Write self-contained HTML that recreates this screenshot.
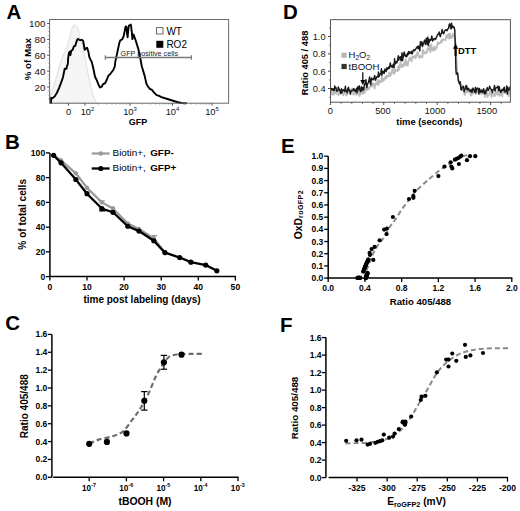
<!DOCTYPE html>
<html><head><meta charset="utf-8"><style>
html,body{margin:0;padding:0;background:#fff;}
body{width:520px;height:511px;overflow:hidden;}
svg{display:block;font-family:"Liberation Sans", sans-serif;}
</style></head><body>
<svg width="520" height="511" viewBox="0 0 520 511">
<rect width="520" height="511" fill="#fff"/>
<text x="6.4" y="18.8" font-size="20.5" font-weight="bold" text-anchor="start" fill="#000" >A</text>
<text x="5.0" y="148.8" font-size="20.5" font-weight="bold" text-anchor="start" fill="#000" >B</text>
<text x="5.2" y="330.3" font-size="20.5" font-weight="bold" text-anchor="start" fill="#000" >C</text>
<text x="283.0" y="18.8" font-size="20.5" font-weight="bold" text-anchor="start" fill="#000" >D</text>
<text x="281.0" y="152.8" font-size="20.5" font-weight="bold" text-anchor="start" fill="#000" >E</text>
<text x="280.0" y="331.5" font-size="20.5" font-weight="bold" text-anchor="start" fill="#000" >F</text>
<path d="M49.8,103.2 L49.8,98.0 L52.0,92.0 L55.0,82.0 L57.5,73.0 L60.3,63.5 L63.0,56.0 L65.0,51.0 L67.3,46.4 L69.5,38.0 L71.5,30.0 L73.4,25.3 L74.3,24.8 L75.6,25.3 L77.0,27.0 L78.3,29.0 L79.6,37.6 L82.4,45.0 L84.5,55.0 L86.6,66.5 L88.5,76.0 L90.7,86.5 L92.5,93.0 L94.0,98.0 L96.0,101.5 L97.5,103.2 Z" fill="#f5f5f5" stroke="#d6d6d6" stroke-width="0.8"/>
<polyline points="51.10,103.00 51.10,97.80 52.40,98.30 54.60,96.50 56.80,93.00 59.00,88.10 61.20,82.40 63.00,77.20 64.30,70.60 64.70,68.80 66.50,68.80 66.90,66.20 67.80,64.40 68.20,57.80 69.00,52.50 69.90,51.70 70.40,55.20 71.20,50.80 72.60,49.90 73.90,46.40 75.20,45.90 76.10,42.90 77.00,40.20 77.80,38.90 79.20,39.80 80.50,40.20 81.80,39.80 83.10,40.70 84.00,45.50 84.70,49.90 85.70,48.60 87.10,47.70 88.40,51.70 89.30,56.90 90.60,60.00 91.70,61.70 93.30,68.30 95.00,76.70 96.70,80.00 98.30,84.20 100.00,87.50 101.70,86.70 103.00,84.20 105.00,83.30 106.70,80.00 108.30,75.80 110.80,73.30 113.30,70.00 114.70,66.70 115.40,61.10 116.80,54.90 118.10,48.80 119.40,42.60 120.30,40.40 122.00,39.50 123.40,36.90 124.20,33.80 125.10,28.60 125.70,26.40 126.40,26.80 127.00,33.00 127.60,37.30 128.20,30.30 128.90,25.50 130.00,25.00 130.80,24.60 131.30,27.70 131.90,33.00 132.40,39.10 133.00,34.30 133.90,35.20 134.80,38.20 136.10,41.70 137.40,46.10 138.30,48.80 139.20,53.20 140.50,59.30 141.90,66.70 143.40,71.60 144.80,76.50 146.30,83.40 147.80,86.30 149.70,88.80 151.70,89.70 153.70,92.20 156.60,95.10 158.50,95.60 161.50,97.10 167.40,99.00 172.20,100.50 177.10,102.00 181.00,103.00 186.00,103.20" stroke="#000" stroke-width="1.9" fill="none" stroke-linejoin="round" stroke-linecap="round" />
<rect x="49.6" y="19.5" width="179.0" height="83.7" fill="none" stroke="#6a6a6a" stroke-width="1"/>
<line x1="47.10" y1="87.02" x2="49.60" y2="87.02" stroke="#555" stroke-width="1" />
<text x="45.4" y="90.5" font-size="9.8" text-anchor="end" fill="#111" >20</text>
<line x1="47.10" y1="71.14" x2="49.60" y2="71.14" stroke="#555" stroke-width="1" />
<text x="45.4" y="74.6" font-size="9.8" text-anchor="end" fill="#111" >40</text>
<line x1="47.10" y1="55.26" x2="49.60" y2="55.26" stroke="#555" stroke-width="1" />
<text x="45.4" y="58.8" font-size="9.8" text-anchor="end" fill="#111" >60</text>
<line x1="47.10" y1="39.38" x2="49.60" y2="39.38" stroke="#555" stroke-width="1" />
<text x="45.4" y="42.9" font-size="9.8" text-anchor="end" fill="#111" >80</text>
<line x1="47.10" y1="23.50" x2="49.60" y2="23.50" stroke="#555" stroke-width="1" />
<text x="45.4" y="27.0" font-size="9.8" text-anchor="end" fill="#111" >100</text>
<line x1="48.40" y1="98.93" x2="49.60" y2="98.93" stroke="#777" stroke-width="0.8" />
<line x1="48.40" y1="94.96" x2="49.60" y2="94.96" stroke="#777" stroke-width="0.8" />
<line x1="48.40" y1="90.99" x2="49.60" y2="90.99" stroke="#777" stroke-width="0.8" />
<line x1="48.40" y1="83.05" x2="49.60" y2="83.05" stroke="#777" stroke-width="0.8" />
<line x1="48.40" y1="79.08" x2="49.60" y2="79.08" stroke="#777" stroke-width="0.8" />
<line x1="48.40" y1="75.11" x2="49.60" y2="75.11" stroke="#777" stroke-width="0.8" />
<line x1="48.40" y1="67.17" x2="49.60" y2="67.17" stroke="#777" stroke-width="0.8" />
<line x1="48.40" y1="63.20" x2="49.60" y2="63.20" stroke="#777" stroke-width="0.8" />
<line x1="48.40" y1="59.23" x2="49.60" y2="59.23" stroke="#777" stroke-width="0.8" />
<line x1="48.40" y1="51.29" x2="49.60" y2="51.29" stroke="#777" stroke-width="0.8" />
<line x1="48.40" y1="47.32" x2="49.60" y2="47.32" stroke="#777" stroke-width="0.8" />
<line x1="48.40" y1="43.35" x2="49.60" y2="43.35" stroke="#777" stroke-width="0.8" />
<line x1="48.40" y1="35.41" x2="49.60" y2="35.41" stroke="#777" stroke-width="0.8" />
<line x1="48.40" y1="31.44" x2="49.60" y2="31.44" stroke="#777" stroke-width="0.8" />
<line x1="48.40" y1="27.47" x2="49.60" y2="27.47" stroke="#777" stroke-width="0.8" />
<line x1="68.50" y1="103.20" x2="68.50" y2="105.70" stroke="#555" stroke-width="1" />
<line x1="85.00" y1="103.20" x2="85.00" y2="105.70" stroke="#555" stroke-width="1" />
<line x1="130.00" y1="103.20" x2="130.00" y2="105.70" stroke="#555" stroke-width="1" />
<line x1="172.50" y1="103.20" x2="172.50" y2="105.70" stroke="#555" stroke-width="1" />
<line x1="212.00" y1="103.20" x2="212.00" y2="105.70" stroke="#555" stroke-width="1" />
<text x="68.5" y="115.0" font-size="9.3" text-anchor="middle" fill="#111" >0</text>
<text x="87.5" y="115" font-size="9.3" text-anchor="middle" fill="#111">10<tspan dy="-3.6" font-size="6">2</tspan></text>
<text x="130.0" y="115" font-size="9.3" text-anchor="middle" fill="#111">10<tspan dy="-3.6" font-size="6">3</tspan></text>
<text x="172.5" y="115" font-size="9.3" text-anchor="middle" fill="#111">10<tspan dy="-3.6" font-size="6">4</tspan></text>
<text x="212.0" y="115" font-size="9.3" text-anchor="middle" fill="#111">10<tspan dy="-3.6" font-size="6">5</tspan></text>
<line x1="98.55" y1="103.20" x2="98.55" y2="104.50" stroke="#777" stroke-width="0.8" />
<line x1="106.47" y1="103.20" x2="106.47" y2="104.50" stroke="#777" stroke-width="0.8" />
<line x1="112.09" y1="103.20" x2="112.09" y2="104.50" stroke="#777" stroke-width="0.8" />
<line x1="116.45" y1="103.20" x2="116.45" y2="104.50" stroke="#777" stroke-width="0.8" />
<line x1="120.02" y1="103.20" x2="120.02" y2="104.50" stroke="#777" stroke-width="0.8" />
<line x1="123.03" y1="103.20" x2="123.03" y2="104.50" stroke="#777" stroke-width="0.8" />
<line x1="125.64" y1="103.20" x2="125.64" y2="104.50" stroke="#777" stroke-width="0.8" />
<line x1="127.94" y1="103.20" x2="127.94" y2="104.50" stroke="#777" stroke-width="0.8" />
<line x1="142.79" y1="103.20" x2="142.79" y2="104.50" stroke="#777" stroke-width="0.8" />
<line x1="150.28" y1="103.20" x2="150.28" y2="104.50" stroke="#777" stroke-width="0.8" />
<line x1="155.59" y1="103.20" x2="155.59" y2="104.50" stroke="#777" stroke-width="0.8" />
<line x1="159.71" y1="103.20" x2="159.71" y2="104.50" stroke="#777" stroke-width="0.8" />
<line x1="163.07" y1="103.20" x2="163.07" y2="104.50" stroke="#777" stroke-width="0.8" />
<line x1="165.92" y1="103.20" x2="165.92" y2="104.50" stroke="#777" stroke-width="0.8" />
<line x1="168.38" y1="103.20" x2="168.38" y2="104.50" stroke="#777" stroke-width="0.8" />
<line x1="170.56" y1="103.20" x2="170.56" y2="104.50" stroke="#777" stroke-width="0.8" />
<line x1="184.39" y1="103.20" x2="184.39" y2="104.50" stroke="#777" stroke-width="0.8" />
<line x1="191.35" y1="103.20" x2="191.35" y2="104.50" stroke="#777" stroke-width="0.8" />
<line x1="196.28" y1="103.20" x2="196.28" y2="104.50" stroke="#777" stroke-width="0.8" />
<line x1="200.11" y1="103.20" x2="200.11" y2="104.50" stroke="#777" stroke-width="0.8" />
<line x1="203.24" y1="103.20" x2="203.24" y2="104.50" stroke="#777" stroke-width="0.8" />
<line x1="205.88" y1="103.20" x2="205.88" y2="104.50" stroke="#777" stroke-width="0.8" />
<line x1="208.17" y1="103.20" x2="208.17" y2="104.50" stroke="#777" stroke-width="0.8" />
<line x1="210.19" y1="103.20" x2="210.19" y2="104.50" stroke="#777" stroke-width="0.8" />
<text x="138.0" y="124.6" font-size="9.0" font-weight="bold" text-anchor="middle" fill="#000" >GFP</text>
<text transform="translate(27.8,59.2) rotate(-90)" x="0" y="0" font-size="9.7" font-weight="bold" text-anchor="middle" dominant-baseline="central" fill="#000">% of Max</text>
<rect x="156.6" y="27.6" width="6.4" height="6.4" fill="#fff" stroke="#555" stroke-width="0.9"/>
<rect x="156.3" y="40.8" width="7" height="7" fill="#000"/>
<text x="166.4" y="34.7" font-size="10.0" text-anchor="start" fill="#000" >WT</text>
<text x="166.4" y="47.8" font-size="10.0" text-anchor="start" fill="#000" >RO2</text>
<line x1="105.30" y1="57.50" x2="191.40" y2="57.50" stroke="#7a7a7a" stroke-width="1.5" />
<line x1="105.30" y1="55.30" x2="105.30" y2="59.70" stroke="#777" stroke-width="1.2" />
<line x1="191.40" y1="55.30" x2="191.40" y2="59.70" stroke="#777" stroke-width="1.2" />
<text x="149.3" y="55.7" font-size="7.2" text-anchor="middle" fill="#222" >GFP positive cells</text>
<clipPath id="dclip"><rect x="330.5" y="19.7" width="179.9" height="82.5"/></clipPath>
<polyline points="330.50,92.29 331.17,93.82 331.57,90.94 331.96,92.37 332.56,94.87 332.95,93.30 333.36,89.47 333.78,94.51 334.24,89.42 334.88,89.31 335.43,93.41 336.20,92.71 336.70,93.42 337.21,93.59 337.96,93.91 338.63,95.19 339.17,92.11 339.55,92.59 340.01,91.91 340.52,90.89 341.17,91.18 341.91,93.29 342.60,92.90 343.21,95.41 343.99,92.59 344.82,91.17 345.24,89.87 345.67,94.46 346.27,95.68 347.00,93.52 347.63,94.03 348.32,91.58 348.97,90.86 349.73,91.74 350.55,89.88 350.94,93.28 351.63,89.00 352.39,88.40 352.88,90.56 353.25,94.75 353.84,93.29 354.22,93.67 354.95,93.84 355.50,93.90 356.28,94.71 356.90,93.86 357.69,94.48 358.18,89.18 358.74,90.18 359.56,96.02 359.99,93.45 360.46,94.10 361.06,91.48 361.42,91.97 361.98,91.04 362.80,93.95 363.49,88.65 364.17,90.50 364.56,93.22 365.34,87.74 366.08,87.76 366.49,90.35 367.16,89.37 367.62,88.68 368.05,87.78 368.41,88.47 368.85,89.18 369.22,88.55 370.00,86.09 370.48,85.90 371.01,85.65 371.77,86.63 372.61,83.10 373.01,85.59 373.42,83.99 374.18,85.70 374.62,88.52 375.23,84.46 375.66,83.03 376.27,82.98 377.10,84.62 377.59,79.97 378.13,83.69 378.74,84.58 379.47,80.47 380.22,81.94 381.06,82.36 381.81,76.83 382.52,79.63 383.06,81.28 383.43,80.20 383.91,78.53 384.61,79.83 385.42,76.55 386.25,78.34 386.72,75.64 387.19,76.26 387.84,76.61 388.64,75.97 389.31,72.31 390.05,76.22 390.85,74.59 391.59,72.55 392.03,69.94 392.77,69.89 393.60,74.18 394.15,66.70 394.86,72.94 395.30,70.59 396.09,70.02 396.84,70.92 397.67,71.01 398.34,66.04 398.77,69.25 399.13,69.79 399.75,65.96 400.55,62.28 401.31,67.20 401.77,65.29 402.25,66.71 402.89,64.56 403.31,66.53 404.11,62.66 404.75,65.40 405.54,59.27 406.14,65.00 406.76,62.13 407.33,62.14 407.78,65.53 408.22,61.78 408.81,60.97 409.33,58.56 409.93,57.44 410.34,59.31 410.97,60.17 411.70,61.36 412.31,56.28 413.11,57.68 413.68,56.84 414.28,56.76 414.98,55.55 415.57,58.31 416.38,55.84 417.19,52.79 417.68,51.99 418.44,54.19 418.86,57.24 419.26,56.94 419.73,57.83 420.47,56.04 421.26,56.04 421.94,56.46 422.37,57.46 422.83,49.78 423.65,50.95 424.48,53.69 425.24,52.98 425.85,53.29 426.37,51.76 427.08,52.40 427.45,48.50 427.82,49.59 428.34,48.29 428.73,48.08 429.56,50.54 429.97,44.62 430.46,52.09 430.95,49.29 431.37,44.29 432.13,49.79 432.61,50.09 433.24,50.67 433.94,47.22 434.63,46.59 435.19,50.10 435.86,47.43 436.60,48.20 437.00,46.48 437.77,42.18 438.39,43.98 439.20,42.73 439.81,43.44 440.29,42.95 440.67,42.50 441.13,40.76 441.85,42.44 442.35,39.23 442.88,40.09 443.25,39.81 443.96,39.63 444.58,39.66 445.39,40.31 445.80,38.79 446.40,35.52 447.16,35.02 447.85,37.84 448.68,33.66 449.38,38.51 450.05,33.58 450.43,36.00 450.86,37.77 451.34,36.03 451.78,37.76 452.55,36.10 453.24,33.60 453.74,35.76 454.32,36.71 454.80,38.36 455.63,43.50 456.10,52.04 456.93,66.86 457.29,73.98 457.83,74.21 458.29,79.05 458.89,83.05 459.29,82.73 459.84,84.38 460.35,85.26 460.82,84.14 461.54,86.67 462.22,88.32 462.76,85.65 463.28,91.25 463.99,90.63 464.66,94.98 465.45,93.05 466.11,92.13 466.53,88.87 467.14,88.72 467.89,92.42 468.65,88.88 469.34,90.41 470.03,92.61 470.45,93.05 470.99,95.56 471.61,94.89 472.27,90.45 472.87,90.42 473.23,93.56 473.83,89.41 474.45,92.20 475.16,91.98 475.64,94.01 476.35,93.33 476.81,92.27 477.41,88.23 477.95,89.63 478.68,93.04 479.34,92.15 479.77,92.03 480.25,92.59 480.88,90.97 481.25,94.14 481.93,93.27 482.62,91.94 483.23,91.21 483.81,91.72 484.60,92.92 485.06,97.11 485.43,92.08 486.01,94.96 486.58,88.33 487.07,93.94 487.53,97.14 488.17,94.28 488.99,94.65 489.41,93.78 490.20,90.62 490.90,93.28 491.49,97.03 491.86,95.12 492.44,92.85 492.94,93.97 493.46,94.23 494.22,96.15 494.98,92.86 495.40,95.66 496.19,91.43 496.69,91.46 497.53,94.29 498.17,91.51 498.67,94.49 499.05,95.92 499.55,95.14 500.35,92.89 500.96,94.47 501.41,89.40 502.20,96.48 502.95,89.91 503.76,89.68 504.38,92.81 505.09,92.31 505.67,92.99 506.17,90.08 506.55,93.89 507.14,92.50 507.66,92.00 508.49,96.11 508.97,92.04 509.60,91.59 510.15,93.59" stroke="#bcbcbc" stroke-width="1.8" fill="none" stroke-linejoin="round" stroke-linecap="round" clip-path="url(#dclip)"/>
<polyline points="330.50,90.83 331.29,88.39 332.09,89.83 332.93,88.76 333.38,90.14 333.78,89.32 334.26,90.53 334.74,86.01 335.46,88.03 336.02,87.71 336.56,91.06 337.08,91.29 337.91,90.41 338.33,86.98 339.10,89.74 339.57,89.60 340.12,91.30 340.69,93.53 341.47,88.69 341.84,92.88 342.63,90.43 343.22,89.77 343.77,89.78 344.57,91.60 345.40,86.30 345.88,90.70 346.49,90.53 347.18,92.79 347.85,88.65 348.57,87.36 348.95,90.47 349.69,90.29 350.36,94.20 350.86,90.86 351.53,90.90 352.22,90.38 352.84,90.29 353.48,88.71 354.12,90.72 354.49,89.09 355.31,91.91 355.98,91.49 356.45,88.28 356.93,92.83 357.44,89.03 357.81,86.80 358.37,89.83 358.85,87.54 359.32,85.85 359.70,88.70 360.39,91.58 360.84,90.76 361.44,86.66 361.90,90.89 362.66,87.72 363.13,87.94 363.63,89.90 364.45,84.05 364.91,84.67 365.47,81.70 365.90,79.67 366.45,84.74 366.88,87.59 367.27,84.78 368.06,83.11 368.84,81.07 369.65,76.86 370.17,82.75 370.88,84.71 371.26,79.14 371.80,78.08 372.32,79.47 372.81,79.19 373.34,79.67 374.16,77.83 374.62,75.49 375.38,80.18 375.95,79.03 376.48,77.18 377.29,76.60 378.08,77.17 378.45,72.03 379.18,76.56 379.56,75.05 380.36,73.95 380.84,73.38 381.37,68.81 381.86,75.42 382.34,71.68 383.05,71.21 383.41,73.04 384.13,73.45 384.94,68.92 385.32,70.28 386.13,71.65 386.95,67.59 387.52,69.28 388.12,68.95 388.86,66.66 389.58,68.16 390.23,63.03 390.74,64.90 391.48,66.83 391.88,65.88 392.36,67.58 392.75,66.58 393.26,64.22 394.09,67.42 394.58,58.67 394.98,64.25 395.68,63.09 396.26,61.50 396.91,62.83 397.60,60.17 398.28,55.80 398.70,60.25 399.33,57.43 399.87,58.31 400.35,56.76 400.82,60.18 401.46,60.83 401.98,52.71 402.58,60.55 403.05,57.51 403.89,53.25 404.30,52.07 405.06,55.85 405.86,56.40 406.28,54.95 406.73,56.87 407.53,53.33 408.07,54.91 408.56,51.54 409.29,53.62 409.94,52.02 410.59,52.33 411.02,53.57 411.48,51.33 412.15,53.71 412.61,52.51 413.30,50.45 413.75,49.54 414.49,50.86 415.11,50.09 415.66,49.26 416.28,47.97 416.72,47.60 417.42,46.47 417.92,48.42 418.74,46.07 419.27,49.13 419.83,50.80 420.37,41.68 420.82,45.62 421.18,44.25 421.98,41.82 422.53,46.49 423.32,43.15 423.68,44.38 424.31,40.93 424.71,40.08 425.37,41.45 425.80,44.54 426.30,38.12 426.71,41.67 427.30,43.68 427.76,37.25 428.18,45.79 428.77,39.13 429.16,42.58 429.95,39.44 430.61,40.47 431.34,38.44 431.81,36.02 432.57,40.94 433.02,38.89 433.63,40.10 434.17,38.88 434.88,38.43 435.67,39.37 436.39,37.08 436.77,36.71 437.42,34.93 438.04,34.19 438.60,33.81 439.24,32.01 439.82,35.59 440.39,36.66 440.98,33.95 441.46,33.54 442.04,29.41 442.48,31.66 442.90,32.49 443.47,33.79 444.08,32.77 444.46,30.81 445.17,30.28 445.90,29.78 446.50,30.02 447.04,30.76 447.82,28.92 448.65,28.31 449.11,24.81 449.94,23.79 450.74,28.18 451.18,28.88 451.57,23.24 452.10,27.51 452.89,26.03 453.38,27.49 453.98,26.94 454.78,29.97 455.38,47.52 455.90,69.62 456.33,74.09 457.14,73.93 457.59,72.96 458.32,80.51 458.99,82.09 459.52,83.67 460.16,81.80 460.94,89.47 461.60,90.02 462.15,87.55 462.99,86.73 463.63,86.55 464.20,91.79 464.64,89.50 465.40,89.17 465.88,86.11 466.52,85.40 467.20,89.75 467.57,89.91 468.01,88.21 468.61,88.38 469.40,90.77 470.08,90.86 470.45,91.67 470.86,89.83 471.39,90.23 472.03,92.41 472.49,88.18 472.91,88.21 473.72,89.85 474.13,90.94 474.80,92.21 475.35,87.27 475.84,92.67 476.47,90.01 476.99,88.48 477.80,88.08 478.52,89.84 478.90,94.12 479.51,88.58 479.90,90.62 480.63,92.32 481.45,90.00 481.87,90.65 482.48,92.40 483.15,90.28 483.65,88.66 484.16,93.80 484.89,91.06 485.60,93.66 486.32,89.95 486.90,89.69 487.37,87.61 487.78,89.86 488.30,90.36 489.02,88.49 489.72,86.16 490.21,87.78 490.95,89.09 491.56,89.52 492.38,92.65 492.84,90.06 493.33,89.56 493.80,89.61 494.52,85.40 495.04,91.10 495.51,88.58 496.31,87.71 496.99,87.55 497.82,86.04 498.51,90.53 499.28,86.83 499.92,91.03 500.43,90.46 500.82,92.51 501.62,90.09 502.03,90.17 502.84,89.18 503.21,90.72 503.59,88.80 504.29,87.15 505.00,92.25 505.53,90.87 506.29,91.58 506.68,85.98 507.45,93.93 507.87,87.34 508.32,90.20 509.09,90.14 509.84,87.32" stroke="#1a1a1a" stroke-width="1.45" fill="none" stroke-linejoin="round" stroke-linecap="round" clip-path="url(#dclip)"/>
<rect x="330.5" y="19.7" width="179.9" height="82.5" fill="none" stroke="#555" stroke-width="1"/>
<line x1="328.00" y1="88.50" x2="330.50" y2="88.50" stroke="#444" stroke-width="1" />
<text x="325.6" y="91.8" font-size="9.3" text-anchor="end" fill="#111" >0.4</text>
<line x1="328.00" y1="71.17" x2="330.50" y2="71.17" stroke="#444" stroke-width="1" />
<text x="325.6" y="74.5" font-size="9.3" text-anchor="end" fill="#111" >0.6</text>
<line x1="328.00" y1="53.83" x2="330.50" y2="53.83" stroke="#444" stroke-width="1" />
<text x="325.6" y="57.1" font-size="9.3" text-anchor="end" fill="#111" >0.8</text>
<line x1="328.00" y1="36.50" x2="330.50" y2="36.50" stroke="#444" stroke-width="1" />
<text x="325.6" y="39.8" font-size="9.3" text-anchor="end" fill="#111" >1.0</text>
<line x1="329.00" y1="97.17" x2="330.50" y2="97.17" stroke="#666" stroke-width="0.8" />
<line x1="329.00" y1="79.84" x2="330.50" y2="79.84" stroke="#666" stroke-width="0.8" />
<line x1="329.00" y1="62.50" x2="330.50" y2="62.50" stroke="#666" stroke-width="0.8" />
<line x1="329.00" y1="45.17" x2="330.50" y2="45.17" stroke="#666" stroke-width="0.8" />
<line x1="329.00" y1="27.83" x2="330.50" y2="27.83" stroke="#666" stroke-width="0.8" />
<line x1="330.40" y1="102.20" x2="330.40" y2="105.00" stroke="#444" stroke-width="0.9" />
<line x1="341.08" y1="102.20" x2="341.08" y2="103.80" stroke="#444" stroke-width="0.9" />
<line x1="351.76" y1="102.20" x2="351.76" y2="103.80" stroke="#444" stroke-width="0.9" />
<line x1="362.44" y1="102.20" x2="362.44" y2="103.80" stroke="#444" stroke-width="0.9" />
<line x1="373.12" y1="102.20" x2="373.12" y2="103.80" stroke="#444" stroke-width="0.9" />
<line x1="383.80" y1="102.20" x2="383.80" y2="105.00" stroke="#444" stroke-width="0.9" />
<line x1="394.48" y1="102.20" x2="394.48" y2="103.80" stroke="#444" stroke-width="0.9" />
<line x1="405.16" y1="102.20" x2="405.16" y2="103.80" stroke="#444" stroke-width="0.9" />
<line x1="415.84" y1="102.20" x2="415.84" y2="103.80" stroke="#444" stroke-width="0.9" />
<line x1="426.52" y1="102.20" x2="426.52" y2="103.80" stroke="#444" stroke-width="0.9" />
<line x1="437.20" y1="102.20" x2="437.20" y2="105.00" stroke="#444" stroke-width="0.9" />
<line x1="447.88" y1="102.20" x2="447.88" y2="103.80" stroke="#444" stroke-width="0.9" />
<line x1="458.56" y1="102.20" x2="458.56" y2="103.80" stroke="#444" stroke-width="0.9" />
<line x1="469.24" y1="102.20" x2="469.24" y2="103.80" stroke="#444" stroke-width="0.9" />
<line x1="479.92" y1="102.20" x2="479.92" y2="103.80" stroke="#444" stroke-width="0.9" />
<line x1="490.60" y1="102.20" x2="490.60" y2="105.00" stroke="#444" stroke-width="0.9" />
<line x1="501.28" y1="102.20" x2="501.28" y2="103.80" stroke="#444" stroke-width="0.9" />
<text x="330.4" y="114.2" font-size="9.3" text-anchor="middle" fill="#111" >0</text>
<text x="382.9" y="114.2" font-size="9.3" text-anchor="middle" fill="#111" >500</text>
<text x="435.0" y="114.2" font-size="9.3" text-anchor="middle" fill="#111" >1000</text>
<text x="486.8" y="114.2" font-size="9.3" text-anchor="middle" fill="#111" >1500</text>
<text x="429.4" y="124.6" font-size="9.4" font-weight="bold" text-anchor="middle" fill="#000" >time (seconds)</text>
<text transform="translate(304.5,63.0) rotate(-90)" x="0" y="0" font-size="9.3" font-weight="bold" text-anchor="middle" dominant-baseline="central" fill="#000">Ratio 405 / 488</text>
<rect x="341.5" y="52.6" width="5.2" height="5.2" fill="#b5b5b5"/>
<rect x="341.5" y="63.9" width="5.2" height="5.2" fill="#333"/>
<text x="348.6" y="57.9" font-size="9.5" fill="#111">H<tspan font-size="6.4" dy="2.4">2</tspan><tspan dy="-2.4">O</tspan><tspan font-size="6.4" dy="2.4">2</tspan></text>
<text x="348.6" y="69.5" font-size="9.6" text-anchor="start" fill="#111" >tBOOH</text>
<path d="M362.8,72.3 L362.8,82" stroke="#000" stroke-width="1.2"/>
<path d="M360.3,80 L362.8,85 L365.3,80 Z" fill="#000"/>
<path d="M455.6,56 L455.6,47" stroke="#000" stroke-width="2.0"/>
<path d="M453.0,48.8 L455.6,43.4 L458.2,48.8 Z" fill="#000"/>
<text x="458.0" y="54.2" font-size="9.4" font-weight="bold" text-anchor="start" fill="#000" >DTT</text>
<line x1="49.90" y1="276.60" x2="49.90" y2="152.90" stroke="#000" stroke-width="1.5" />
<line x1="49.15" y1="276.60" x2="235.90" y2="276.60" stroke="#000" stroke-width="1.5" />
<line x1="45.90" y1="276.60" x2="49.90" y2="276.60" stroke="#000" stroke-width="1.3" />
<text x="45.2" y="279.7" font-size="8.6" font-weight="bold" text-anchor="end" fill="#000" >0</text>
<line x1="45.90" y1="251.86" x2="49.90" y2="251.86" stroke="#000" stroke-width="1.3" />
<text x="45.2" y="255.0" font-size="8.6" font-weight="bold" text-anchor="end" fill="#000" >20</text>
<line x1="45.90" y1="227.12" x2="49.90" y2="227.12" stroke="#000" stroke-width="1.3" />
<text x="45.2" y="230.2" font-size="8.6" font-weight="bold" text-anchor="end" fill="#000" >40</text>
<line x1="45.90" y1="202.38" x2="49.90" y2="202.38" stroke="#000" stroke-width="1.3" />
<text x="45.2" y="205.5" font-size="8.6" font-weight="bold" text-anchor="end" fill="#000" >60</text>
<line x1="45.90" y1="177.64" x2="49.90" y2="177.64" stroke="#000" stroke-width="1.3" />
<text x="45.2" y="180.7" font-size="8.6" font-weight="bold" text-anchor="end" fill="#000" >80</text>
<line x1="45.90" y1="152.90" x2="49.90" y2="152.90" stroke="#000" stroke-width="1.3" />
<text x="45.2" y="156.0" font-size="8.6" font-weight="bold" text-anchor="end" fill="#000" >100</text>
<line x1="49.90" y1="276.60" x2="49.90" y2="280.60" stroke="#000" stroke-width="1.3" />
<text x="49.9" y="289.8" font-size="8.6" font-weight="bold" text-anchor="middle" fill="#000" >0</text>
<line x1="87.00" y1="276.60" x2="87.00" y2="280.60" stroke="#000" stroke-width="1.3" />
<text x="87.0" y="289.8" font-size="8.6" font-weight="bold" text-anchor="middle" fill="#000" >10</text>
<line x1="124.10" y1="276.60" x2="124.10" y2="280.60" stroke="#000" stroke-width="1.3" />
<text x="124.1" y="289.8" font-size="8.6" font-weight="bold" text-anchor="middle" fill="#000" >20</text>
<line x1="161.20" y1="276.60" x2="161.20" y2="280.60" stroke="#000" stroke-width="1.3" />
<text x="161.2" y="289.8" font-size="8.6" font-weight="bold" text-anchor="middle" fill="#000" >30</text>
<line x1="198.30" y1="276.60" x2="198.30" y2="280.60" stroke="#000" stroke-width="1.3" />
<text x="198.3" y="289.8" font-size="8.6" font-weight="bold" text-anchor="middle" fill="#000" >40</text>
<line x1="235.40" y1="276.60" x2="235.40" y2="280.60" stroke="#000" stroke-width="1.3" />
<text x="235.4" y="289.8" font-size="8.6" font-weight="bold" text-anchor="middle" fill="#000" >50</text>
<text x="142.0" y="302.9" font-size="10.0" font-weight="bold" text-anchor="middle" fill="#000" >time post labeling (days)</text>
<text transform="translate(22.0,214.3) rotate(-90)" x="0" y="0" font-size="10.1" font-weight="bold" text-anchor="middle" dominant-baseline="central" fill="#000">% of total cells</text>
<polyline points="53.61,155.37 61.03,160.32 75.87,173.31 87.00,187.78 101.84,202.38 112.97,208.56 127.81,223.41 138.94,228.98 153.78,238.25 164.91,252.60" stroke="#999" stroke-width="2.2" fill="none" stroke-linejoin="round" stroke-linecap="round" />
<circle cx="53.61" cy="155.37" r="2.2" fill="#999"/>
<circle cx="61.03" cy="160.32" r="2.2" fill="#999"/>
<circle cx="75.87" cy="173.31" r="2.2" fill="#999"/>
<circle cx="87.00" cy="187.78" r="2.2" fill="#999"/>
<circle cx="101.84" cy="202.38" r="2.2" fill="#999"/>
<circle cx="112.97" cy="208.56" r="2.2" fill="#999"/>
<circle cx="127.81" cy="223.41" r="2.2" fill="#999"/>
<circle cx="138.94" cy="228.98" r="2.2" fill="#999"/>
<circle cx="153.78" cy="238.25" r="2.2" fill="#999"/>
<circle cx="164.91" cy="252.60" r="2.2" fill="#999"/>
<line x1="99.70" y1="201.00" x2="104.90" y2="201.00" stroke="#999" stroke-width="1.3" />
<line x1="102.30" y1="201.00" x2="102.30" y2="204.00" stroke="#999" stroke-width="1.3" />
<line x1="109.70" y1="207.30" x2="114.90" y2="207.30" stroke="#999" stroke-width="1.3" />
<line x1="112.30" y1="207.30" x2="112.30" y2="210.30" stroke="#999" stroke-width="1.3" />
<line x1="152.00" y1="235.60" x2="157.20" y2="235.60" stroke="#999" stroke-width="1.3" />
<line x1="154.60" y1="235.60" x2="154.60" y2="238.60" stroke="#999" stroke-width="1.3" />
<polyline points="53.61,155.37 61.03,162.80 75.87,179.50 87.00,193.72 101.84,208.56 112.97,212.28 127.81,226.25 138.94,231.08 153.78,240.73 164.91,252.60 179.75,257.55 190.88,262.13 205.72,265.10 216.85,270.79" stroke="#000" stroke-width="2.3" fill="none" stroke-linejoin="round" stroke-linecap="round" />
<circle cx="53.61" cy="155.37" r="2.6" fill="#000"/>
<circle cx="61.03" cy="162.80" r="2.6" fill="#000"/>
<circle cx="75.87" cy="179.50" r="2.6" fill="#000"/>
<circle cx="87.00" cy="193.72" r="2.6" fill="#000"/>
<circle cx="101.84" cy="208.56" r="2.6" fill="#000"/>
<circle cx="112.97" cy="212.28" r="2.6" fill="#000"/>
<circle cx="127.81" cy="226.25" r="2.6" fill="#000"/>
<circle cx="138.94" cy="231.08" r="2.6" fill="#000"/>
<circle cx="153.78" cy="240.73" r="2.6" fill="#000"/>
<circle cx="164.91" cy="252.60" r="2.6" fill="#000"/>
<circle cx="179.75" cy="257.55" r="2.6" fill="#000"/>
<circle cx="190.88" cy="262.13" r="2.6" fill="#000"/>
<circle cx="205.72" cy="265.10" r="2.6" fill="#000"/>
<circle cx="216.85" cy="270.79" r="2.6" fill="#000"/>
<line x1="99.20" y1="210.80" x2="105.40" y2="210.80" stroke="#000" stroke-width="1.4" />
<line x1="101.84" y1="208.56" x2="101.84" y2="210.80" stroke="#000" stroke-width="1.4" />
<line x1="91.70" y1="153.50" x2="109.60" y2="153.50" stroke="#999" stroke-width="2.2" />
<circle cx="100.80" cy="153.50" r="2.2" fill="#999"/>
<line x1="91.70" y1="168.50" x2="109.60" y2="168.50" stroke="#000" stroke-width="2.3" />
<circle cx="100.80" cy="168.50" r="2.6" fill="#000"/>
<text x="112.6" y="156.2" font-size="9.9" fill="#000">Biotin+,<tspan x="150.2" font-weight="bold">GFP-</tspan></text>
<text x="112.6" y="171.0" font-size="9.9" fill="#000">Biotin+,<tspan x="150.2" font-weight="bold">GFP+</tspan></text>
<line x1="51.90" y1="477.30" x2="51.90" y2="334.42" stroke="#000" stroke-width="1.5" />
<line x1="53.20" y1="477.30" x2="238.50" y2="477.30" stroke="#000" stroke-width="1.5" />
<line x1="47.80" y1="477.30" x2="51.90" y2="477.30" stroke="#000" stroke-width="1.3" />
<text x="47.3" y="480.3" font-size="8.5" font-weight="bold" text-anchor="end" fill="#000" >0.0</text>
<line x1="47.80" y1="459.44" x2="51.90" y2="459.44" stroke="#000" stroke-width="1.3" />
<text x="47.3" y="462.4" font-size="8.5" font-weight="bold" text-anchor="end" fill="#000" >0.2</text>
<line x1="47.80" y1="441.58" x2="51.90" y2="441.58" stroke="#000" stroke-width="1.3" />
<text x="47.3" y="444.6" font-size="8.5" font-weight="bold" text-anchor="end" fill="#000" >0.4</text>
<line x1="47.80" y1="423.72" x2="51.90" y2="423.72" stroke="#000" stroke-width="1.3" />
<text x="47.3" y="426.7" font-size="8.5" font-weight="bold" text-anchor="end" fill="#000" >0.6</text>
<line x1="47.80" y1="405.86" x2="51.90" y2="405.86" stroke="#000" stroke-width="1.3" />
<text x="47.3" y="408.9" font-size="8.5" font-weight="bold" text-anchor="end" fill="#000" >0.8</text>
<line x1="47.80" y1="388.00" x2="51.90" y2="388.00" stroke="#000" stroke-width="1.3" />
<text x="47.3" y="391.0" font-size="8.5" font-weight="bold" text-anchor="end" fill="#000" >1.0</text>
<line x1="47.80" y1="370.14" x2="51.90" y2="370.14" stroke="#000" stroke-width="1.3" />
<text x="47.3" y="373.1" font-size="8.5" font-weight="bold" text-anchor="end" fill="#000" >1.2</text>
<line x1="47.80" y1="352.28" x2="51.90" y2="352.28" stroke="#000" stroke-width="1.3" />
<text x="47.3" y="355.3" font-size="8.5" font-weight="bold" text-anchor="end" fill="#000" >1.4</text>
<line x1="47.80" y1="334.42" x2="51.90" y2="334.42" stroke="#000" stroke-width="1.3" />
<text x="47.3" y="337.4" font-size="8.5" font-weight="bold" text-anchor="end" fill="#000" >1.6</text>
<line x1="89.20" y1="477.30" x2="89.20" y2="481.30" stroke="#000" stroke-width="1.3" />
<text x="89.0" y="490.6" font-size="8.2" font-weight="bold" text-anchor="middle">10<tspan font-size="5.4" dy="-3.4">-7</tspan></text>
<line x1="126.40" y1="477.30" x2="126.40" y2="481.30" stroke="#000" stroke-width="1.3" />
<text x="126.2" y="490.6" font-size="8.2" font-weight="bold" text-anchor="middle">10<tspan font-size="5.4" dy="-3.4">-6</tspan></text>
<line x1="163.60" y1="477.30" x2="163.60" y2="481.30" stroke="#000" stroke-width="1.3" />
<text x="163.4" y="490.6" font-size="8.2" font-weight="bold" text-anchor="middle">10<tspan font-size="5.4" dy="-3.4">-5</tspan></text>
<line x1="200.80" y1="477.30" x2="200.80" y2="481.30" stroke="#000" stroke-width="1.3" />
<text x="200.6" y="490.6" font-size="8.2" font-weight="bold" text-anchor="middle">10<tspan font-size="5.4" dy="-3.4">-4</tspan></text>
<line x1="238.00" y1="477.30" x2="238.00" y2="481.30" stroke="#000" stroke-width="1.3" />
<text x="237.8" y="490.6" font-size="8.2" font-weight="bold" text-anchor="middle">10<tspan font-size="5.4" dy="-3.4">-3</tspan></text>
<text x="145.0" y="504.6" font-size="10.4" font-weight="bold" text-anchor="middle" fill="#000" >tBOOH (M)</text>
<text transform="translate(24.7,406.2) rotate(-90)" x="0" y="0" font-size="10.0" font-weight="bold" text-anchor="middle" dominant-baseline="central" fill="#000">Ratio 405/488</text>
<path d="M89.60,443.80 C91.13,443.10 94.95,440.87 98.80,439.60 C102.65,438.33 108.67,437.55 112.70,436.20 C116.73,434.85 119.92,434.00 123.00,431.50 C126.08,429.00 128.70,424.45 131.20,421.20 C133.70,417.95 135.90,415.08 138.00,412.00 C140.10,408.92 141.87,406.17 143.80,402.70 C145.73,399.23 147.67,395.43 149.60,391.20 C151.53,386.97 153.47,381.35 155.40,377.30 C157.33,373.25 159.10,370.17 161.20,366.90 C163.30,363.63 165.70,359.73 168.00,357.70 C170.30,355.67 172.67,355.32 175.00,354.70 C177.33,354.08 179.68,354.15 182.00,354.00 C184.32,353.85 185.45,353.83 188.90,353.80 C192.35,353.77 200.40,353.80 202.70,353.80" stroke="#6e6e6e" stroke-width="2.2" fill="none" stroke-dasharray="5,3"/>
<circle cx="89.20" cy="443.80" r="3.1" fill="#000"/>
<circle cx="106.90" cy="441.90" r="3.1" fill="#000"/>
<circle cx="126.50" cy="433.40" r="3.1" fill="#000"/>
<line x1="144.30" y1="391.60" x2="144.30" y2="410.10" stroke="#000" stroke-width="1.2" />
<line x1="141.10" y1="391.60" x2="147.50" y2="391.60" stroke="#000" stroke-width="1.2" />
<line x1="141.10" y1="410.10" x2="147.50" y2="410.10" stroke="#000" stroke-width="1.2" />
<circle cx="144.30" cy="400.80" r="3.1" fill="#000"/>
<line x1="163.90" y1="355.40" x2="163.90" y2="369.20" stroke="#000" stroke-width="1.2" />
<line x1="160.70" y1="355.40" x2="167.10" y2="355.40" stroke="#000" stroke-width="1.2" />
<line x1="160.70" y1="369.20" x2="167.10" y2="369.20" stroke="#000" stroke-width="1.2" />
<circle cx="163.90" cy="362.30" r="3.1" fill="#000"/>
<circle cx="181.50" cy="354.70" r="3.1" fill="#000"/>
<line x1="328.20" y1="278.10" x2="328.20" y2="156.20" stroke="#000" stroke-width="1.5" />
<line x1="327.45" y1="278.10" x2="512.30" y2="278.10" stroke="#000" stroke-width="1.5" />
<line x1="324.20" y1="278.10" x2="328.20" y2="278.10" stroke="#000" stroke-width="1.3" />
<text x="323.3" y="281.1" font-size="8.5" font-weight="bold" text-anchor="end" fill="#000" >0.0</text>
<line x1="324.20" y1="265.91" x2="328.20" y2="265.91" stroke="#000" stroke-width="1.3" />
<text x="323.3" y="268.9" font-size="8.5" font-weight="bold" text-anchor="end" fill="#000" >0.1</text>
<line x1="324.20" y1="253.72" x2="328.20" y2="253.72" stroke="#000" stroke-width="1.3" />
<text x="323.3" y="256.7" font-size="8.5" font-weight="bold" text-anchor="end" fill="#000" >0.2</text>
<line x1="324.20" y1="241.53" x2="328.20" y2="241.53" stroke="#000" stroke-width="1.3" />
<text x="323.3" y="244.5" font-size="8.5" font-weight="bold" text-anchor="end" fill="#000" >0.3</text>
<line x1="324.20" y1="229.34" x2="328.20" y2="229.34" stroke="#000" stroke-width="1.3" />
<text x="323.3" y="232.3" font-size="8.5" font-weight="bold" text-anchor="end" fill="#000" >0.4</text>
<line x1="324.20" y1="217.15" x2="328.20" y2="217.15" stroke="#000" stroke-width="1.3" />
<text x="323.3" y="220.2" font-size="8.5" font-weight="bold" text-anchor="end" fill="#000" >0.5</text>
<line x1="324.20" y1="204.96" x2="328.20" y2="204.96" stroke="#000" stroke-width="1.3" />
<text x="323.3" y="208.0" font-size="8.5" font-weight="bold" text-anchor="end" fill="#000" >0.6</text>
<line x1="324.20" y1="192.77" x2="328.20" y2="192.77" stroke="#000" stroke-width="1.3" />
<text x="323.3" y="195.8" font-size="8.5" font-weight="bold" text-anchor="end" fill="#000" >0.7</text>
<line x1="324.20" y1="180.58" x2="328.20" y2="180.58" stroke="#000" stroke-width="1.3" />
<text x="323.3" y="183.6" font-size="8.5" font-weight="bold" text-anchor="end" fill="#000" >0.8</text>
<line x1="324.20" y1="168.39" x2="328.20" y2="168.39" stroke="#000" stroke-width="1.3" />
<text x="323.3" y="171.4" font-size="8.5" font-weight="bold" text-anchor="end" fill="#000" >0.9</text>
<line x1="324.20" y1="156.20" x2="328.20" y2="156.20" stroke="#000" stroke-width="1.3" />
<text x="323.3" y="159.2" font-size="8.5" font-weight="bold" text-anchor="end" fill="#000" >1.0</text>
<line x1="328.20" y1="278.10" x2="328.20" y2="282.10" stroke="#000" stroke-width="1.3" />
<text x="328.2" y="290.9" font-size="8.5" font-weight="bold" text-anchor="middle" fill="#000" >0.0</text>
<line x1="364.92" y1="278.10" x2="364.92" y2="282.10" stroke="#000" stroke-width="1.3" />
<text x="364.9" y="290.9" font-size="8.5" font-weight="bold" text-anchor="middle" fill="#000" >0.4</text>
<line x1="401.64" y1="278.10" x2="401.64" y2="282.10" stroke="#000" stroke-width="1.3" />
<text x="401.6" y="290.9" font-size="8.5" font-weight="bold" text-anchor="middle" fill="#000" >0.8</text>
<line x1="438.36" y1="278.10" x2="438.36" y2="282.10" stroke="#000" stroke-width="1.3" />
<text x="438.4" y="290.9" font-size="8.5" font-weight="bold" text-anchor="middle" fill="#000" >1.2</text>
<line x1="475.08" y1="278.10" x2="475.08" y2="282.10" stroke="#000" stroke-width="1.3" />
<text x="475.1" y="290.9" font-size="8.5" font-weight="bold" text-anchor="middle" fill="#000" >1.6</text>
<line x1="511.80" y1="278.10" x2="511.80" y2="282.10" stroke="#000" stroke-width="1.3" />
<text x="511.8" y="290.9" font-size="8.5" font-weight="bold" text-anchor="middle" fill="#000" >2.0</text>
<text x="420.5" y="304.6" font-size="9.6" font-weight="bold" text-anchor="middle" fill="#000" >Ratio 405/488</text>
<text transform="translate(301.6,214.7) rotate(-90)" font-size="10.4" font-weight="bold" text-anchor="middle">OxD<tspan font-size="7.0" dy="0.9" letter-spacing="0.45">roGFP2</tspan></text>
<path d="M364.00,278.00 C364.33,277.00 365.17,274.33 366.00,272.00 C366.83,269.67 367.78,267.13 369.00,264.00 C370.22,260.87 371.80,256.37 373.30,253.20 C374.80,250.03 376.33,247.48 378.00,245.00 C379.67,242.52 381.47,241.13 383.30,238.30 C385.13,235.47 387.05,231.05 389.00,228.00 C390.95,224.95 392.83,223.17 395.00,220.00 C397.17,216.83 399.67,212.33 402.00,209.00 C404.33,205.67 406.83,202.83 409.00,200.00 C411.17,197.17 411.83,195.33 415.00,192.00 C418.17,188.67 423.83,183.67 428.00,180.00 C432.17,176.33 436.67,172.50 440.00,170.00 C443.33,167.50 445.50,166.67 448.00,165.00 C450.50,163.33 452.67,161.42 455.00,160.00 C457.33,158.58 459.83,157.33 462.00,156.50 C464.17,155.67 467.00,155.25 468.00,155.00" stroke="#8a8a8a" stroke-width="2.0" fill="none" stroke-dasharray="5,3"/>
<circle cx="357.50" cy="277.90" r="2.1" fill="#000"/>
<circle cx="360.00" cy="277.90" r="2.1" fill="#000"/>
<circle cx="365.80" cy="278.20" r="2.1" fill="#000"/>
<circle cx="366.60" cy="275.70" r="2.1" fill="#000"/>
<circle cx="367.50" cy="273.20" r="2.1" fill="#000"/>
<circle cx="363.30" cy="271.50" r="2.1" fill="#000"/>
<circle cx="364.10" cy="269.00" r="2.1" fill="#000"/>
<circle cx="365.00" cy="266.60" r="2.1" fill="#000"/>
<circle cx="365.80" cy="264.90" r="2.1" fill="#000"/>
<circle cx="366.60" cy="262.90" r="2.1" fill="#000"/>
<circle cx="367.50" cy="261.20" r="2.1" fill="#000"/>
<circle cx="368.30" cy="259.60" r="2.1" fill="#000"/>
<circle cx="373.30" cy="259.90" r="2.1" fill="#000"/>
<circle cx="370.00" cy="254.90" r="2.1" fill="#000"/>
<circle cx="369.60" cy="252.90" r="2.1" fill="#000"/>
<circle cx="371.60" cy="249.10" r="2.1" fill="#000"/>
<circle cx="374.60" cy="246.90" r="2.1" fill="#000"/>
<circle cx="379.60" cy="240.30" r="2.1" fill="#000"/>
<circle cx="384.10" cy="229.60" r="2.1" fill="#000"/>
<circle cx="386.90" cy="228.60" r="2.1" fill="#000"/>
<circle cx="386.60" cy="234.10" r="2.1" fill="#000"/>
<circle cx="392.90" cy="217.00" r="2.1" fill="#000"/>
<circle cx="409.00" cy="199.00" r="2.1" fill="#000"/>
<circle cx="413.40" cy="197.80" r="2.1" fill="#000"/>
<circle cx="413.40" cy="196.00" r="2.1" fill="#000"/>
<circle cx="414.70" cy="190.80" r="2.1" fill="#000"/>
<circle cx="438.40" cy="176.10" r="2.1" fill="#000"/>
<circle cx="444.50" cy="166.60" r="2.1" fill="#000"/>
<circle cx="450.60" cy="162.30" r="2.1" fill="#000"/>
<circle cx="451.40" cy="166.60" r="2.1" fill="#000"/>
<circle cx="452.30" cy="168.40" r="2.1" fill="#000"/>
<circle cx="454.90" cy="159.70" r="2.1" fill="#000"/>
<circle cx="456.60" cy="158.80" r="2.1" fill="#000"/>
<circle cx="458.30" cy="158.00" r="2.1" fill="#000"/>
<circle cx="460.00" cy="156.80" r="2.1" fill="#000"/>
<circle cx="461.30" cy="155.70" r="2.1" fill="#000"/>
<circle cx="458.90" cy="164.00" r="2.1" fill="#000"/>
<circle cx="467.00" cy="160.20" r="2.1" fill="#000"/>
<circle cx="470.00" cy="156.20" r="2.1" fill="#000"/>
<circle cx="475.30" cy="156.20" r="2.1" fill="#000"/>
<circle cx="363.30" cy="271.50" r="2.1" fill="#000"/>
<circle cx="363.93" cy="270.01" r="2.1" fill="#000"/>
<circle cx="364.55" cy="268.52" r="2.1" fill="#000"/>
<circle cx="365.18" cy="267.04" r="2.1" fill="#000"/>
<circle cx="365.80" cy="265.55" r="2.1" fill="#000"/>
<circle cx="366.43" cy="264.06" r="2.1" fill="#000"/>
<circle cx="367.05" cy="262.58" r="2.1" fill="#000"/>
<circle cx="367.68" cy="261.09" r="2.1" fill="#000"/>
<circle cx="368.30" cy="259.60" r="2.1" fill="#000"/>
<circle cx="365.80" cy="278.20" r="2.1" fill="#000"/>
<circle cx="366.01" cy="277.57" r="2.1" fill="#000"/>
<circle cx="366.23" cy="276.95" r="2.1" fill="#000"/>
<circle cx="366.44" cy="276.32" r="2.1" fill="#000"/>
<circle cx="366.65" cy="275.70" r="2.1" fill="#000"/>
<circle cx="366.86" cy="275.07" r="2.1" fill="#000"/>
<circle cx="367.07" cy="274.45" r="2.1" fill="#000"/>
<circle cx="367.29" cy="273.82" r="2.1" fill="#000"/>
<circle cx="367.50" cy="273.20" r="2.1" fill="#000"/>
<circle cx="357.50" cy="277.90" r="2.1" fill="#000"/>
<circle cx="357.81" cy="277.90" r="2.1" fill="#000"/>
<circle cx="358.12" cy="277.90" r="2.1" fill="#000"/>
<circle cx="358.44" cy="277.90" r="2.1" fill="#000"/>
<circle cx="358.75" cy="277.90" r="2.1" fill="#000"/>
<circle cx="359.06" cy="277.90" r="2.1" fill="#000"/>
<circle cx="359.38" cy="277.90" r="2.1" fill="#000"/>
<circle cx="359.69" cy="277.90" r="2.1" fill="#000"/>
<circle cx="360.00" cy="277.90" r="2.1" fill="#000"/>
<line x1="325.90" y1="477.60" x2="325.90" y2="337.60" stroke="#000" stroke-width="1.5" />
<line x1="328.60" y1="477.60" x2="508.00" y2="477.60" stroke="#000" stroke-width="1.5" />
<line x1="321.80" y1="477.60" x2="325.90" y2="477.60" stroke="#000" stroke-width="1.3" />
<text x="321.5" y="480.6" font-size="8.5" font-weight="bold" text-anchor="end" fill="#000" >0.0</text>
<line x1="321.80" y1="460.10" x2="325.90" y2="460.10" stroke="#000" stroke-width="1.3" />
<text x="321.5" y="463.1" font-size="8.5" font-weight="bold" text-anchor="end" fill="#000" >0.2</text>
<line x1="321.80" y1="442.60" x2="325.90" y2="442.60" stroke="#000" stroke-width="1.3" />
<text x="321.5" y="445.6" font-size="8.5" font-weight="bold" text-anchor="end" fill="#000" >0.4</text>
<line x1="321.80" y1="425.10" x2="325.90" y2="425.10" stroke="#000" stroke-width="1.3" />
<text x="321.5" y="428.1" font-size="8.5" font-weight="bold" text-anchor="end" fill="#000" >0.6</text>
<line x1="321.80" y1="407.60" x2="325.90" y2="407.60" stroke="#000" stroke-width="1.3" />
<text x="321.5" y="410.6" font-size="8.5" font-weight="bold" text-anchor="end" fill="#000" >0.8</text>
<line x1="321.80" y1="390.10" x2="325.90" y2="390.10" stroke="#000" stroke-width="1.3" />
<text x="321.5" y="393.1" font-size="8.5" font-weight="bold" text-anchor="end" fill="#000" >1.0</text>
<line x1="321.80" y1="372.60" x2="325.90" y2="372.60" stroke="#000" stroke-width="1.3" />
<text x="321.5" y="375.6" font-size="8.5" font-weight="bold" text-anchor="end" fill="#000" >1.2</text>
<line x1="321.80" y1="355.10" x2="325.90" y2="355.10" stroke="#000" stroke-width="1.3" />
<text x="321.5" y="358.1" font-size="8.5" font-weight="bold" text-anchor="end" fill="#000" >1.4</text>
<line x1="321.80" y1="337.60" x2="325.90" y2="337.60" stroke="#000" stroke-width="1.3" />
<text x="321.5" y="340.6" font-size="8.5" font-weight="bold" text-anchor="end" fill="#000" >1.6</text>
<line x1="357.00" y1="477.60" x2="357.00" y2="481.60" stroke="#000" stroke-width="1.3" />
<text x="357.0" y="490.8" font-size="8.6" font-weight="bold" text-anchor="middle" fill="#000" >-325</text>
<line x1="387.10" y1="477.60" x2="387.10" y2="481.60" stroke="#000" stroke-width="1.3" />
<text x="387.1" y="490.8" font-size="8.6" font-weight="bold" text-anchor="middle" fill="#000" >-300</text>
<line x1="417.20" y1="477.60" x2="417.20" y2="481.60" stroke="#000" stroke-width="1.3" />
<text x="417.2" y="490.8" font-size="8.6" font-weight="bold" text-anchor="middle" fill="#000" >-275</text>
<line x1="447.30" y1="477.60" x2="447.30" y2="481.60" stroke="#000" stroke-width="1.3" />
<text x="447.3" y="490.8" font-size="8.6" font-weight="bold" text-anchor="middle" fill="#000" >-250</text>
<line x1="477.40" y1="477.60" x2="477.40" y2="481.60" stroke="#000" stroke-width="1.3" />
<text x="477.4" y="490.8" font-size="8.6" font-weight="bold" text-anchor="middle" fill="#000" >-225</text>
<line x1="507.50" y1="477.60" x2="507.50" y2="481.60" stroke="#000" stroke-width="1.3" />
<text x="507.5" y="490.8" font-size="8.6" font-weight="bold" text-anchor="middle" fill="#000" >-200</text>
<text x="387.2" y="504.8" font-size="10.2" font-weight="bold">E<tspan font-size="7.3" dy="2.4">roGFP2</tspan><tspan dy="-2.4"> (mV)</tspan></text>
<text transform="translate(294.4,408.0) rotate(-90)" x="0" y="0" font-size="9.8" font-weight="bold" text-anchor="middle" dominant-baseline="central" fill="#000">Ratio 405/488</text>
<path d="M345.50,443.50 C347.67,443.43 354.28,443.30 358.50,443.10 C362.72,442.90 367.05,442.73 370.80,442.30 C374.55,441.87 377.67,441.32 381.00,440.50 C384.33,439.68 387.38,439.28 390.80,437.40 C394.22,435.52 398.17,432.52 401.50,429.20 C404.83,425.88 408.05,421.53 410.80,417.50 C413.55,413.47 415.63,408.95 418.00,405.00 C420.37,401.05 421.92,399.02 425.00,393.80 C428.08,388.58 433.00,378.83 436.50,373.70 C440.00,368.57 442.47,366.15 446.00,363.00 C449.53,359.85 453.87,356.83 457.70,354.80 C461.53,352.77 465.15,351.78 469.00,350.80 C472.85,349.82 476.47,349.32 480.80,348.90 C485.13,348.48 490.30,348.42 495.00,348.30 C499.70,348.18 506.67,348.22 509.00,348.20" stroke="#8a8a8a" stroke-width="2.0" fill="none" stroke-dasharray="5,3"/>
<circle cx="346.20" cy="440.80" r="2.1" fill="#000"/>
<circle cx="356.50" cy="440.30" r="2.1" fill="#000"/>
<circle cx="361.50" cy="439.70" r="2.1" fill="#000"/>
<circle cx="367.70" cy="444.60" r="2.1" fill="#000"/>
<circle cx="370.00" cy="443.80" r="2.1" fill="#000"/>
<circle cx="375.40" cy="442.80" r="2.1" fill="#000"/>
<circle cx="377.70" cy="441.80" r="2.1" fill="#000"/>
<circle cx="380.00" cy="441.20" r="2.1" fill="#000"/>
<circle cx="382.30" cy="440.30" r="2.1" fill="#000"/>
<circle cx="383.80" cy="434.60" r="2.1" fill="#000"/>
<circle cx="389.20" cy="437.70" r="2.1" fill="#000"/>
<circle cx="393.00" cy="436.60" r="2.1" fill="#000"/>
<circle cx="394.60" cy="433.50" r="2.1" fill="#000"/>
<circle cx="398.90" cy="429.20" r="2.1" fill="#000"/>
<circle cx="402.60" cy="422.30" r="2.1" fill="#000"/>
<circle cx="405.00" cy="424.60" r="2.1" fill="#000"/>
<circle cx="405.40" cy="421.50" r="2.1" fill="#000"/>
<circle cx="402.90" cy="421.70" r="2.1" fill="#000"/>
<circle cx="404.80" cy="424.60" r="2.1" fill="#000"/>
<circle cx="411.20" cy="416.50" r="2.1" fill="#000"/>
<circle cx="420.80" cy="400.00" r="2.1" fill="#000"/>
<circle cx="421.50" cy="396.70" r="2.1" fill="#000"/>
<circle cx="425.40" cy="395.80" r="2.1" fill="#000"/>
<circle cx="436.90" cy="372.30" r="2.1" fill="#000"/>
<circle cx="446.20" cy="359.60" r="2.1" fill="#000"/>
<circle cx="448.50" cy="359.60" r="2.1" fill="#000"/>
<circle cx="448.50" cy="366.50" r="2.1" fill="#000"/>
<circle cx="452.30" cy="353.50" r="2.1" fill="#000"/>
<circle cx="456.30" cy="360.80" r="2.1" fill="#000"/>
<circle cx="465.00" cy="344.80" r="2.1" fill="#000"/>
<circle cx="465.80" cy="356.90" r="2.1" fill="#000"/>
<circle cx="470.40" cy="355.40" r="2.1" fill="#000"/>
<circle cx="483.00" cy="353.00" r="2.1" fill="#000"/>
</svg></body></html>
